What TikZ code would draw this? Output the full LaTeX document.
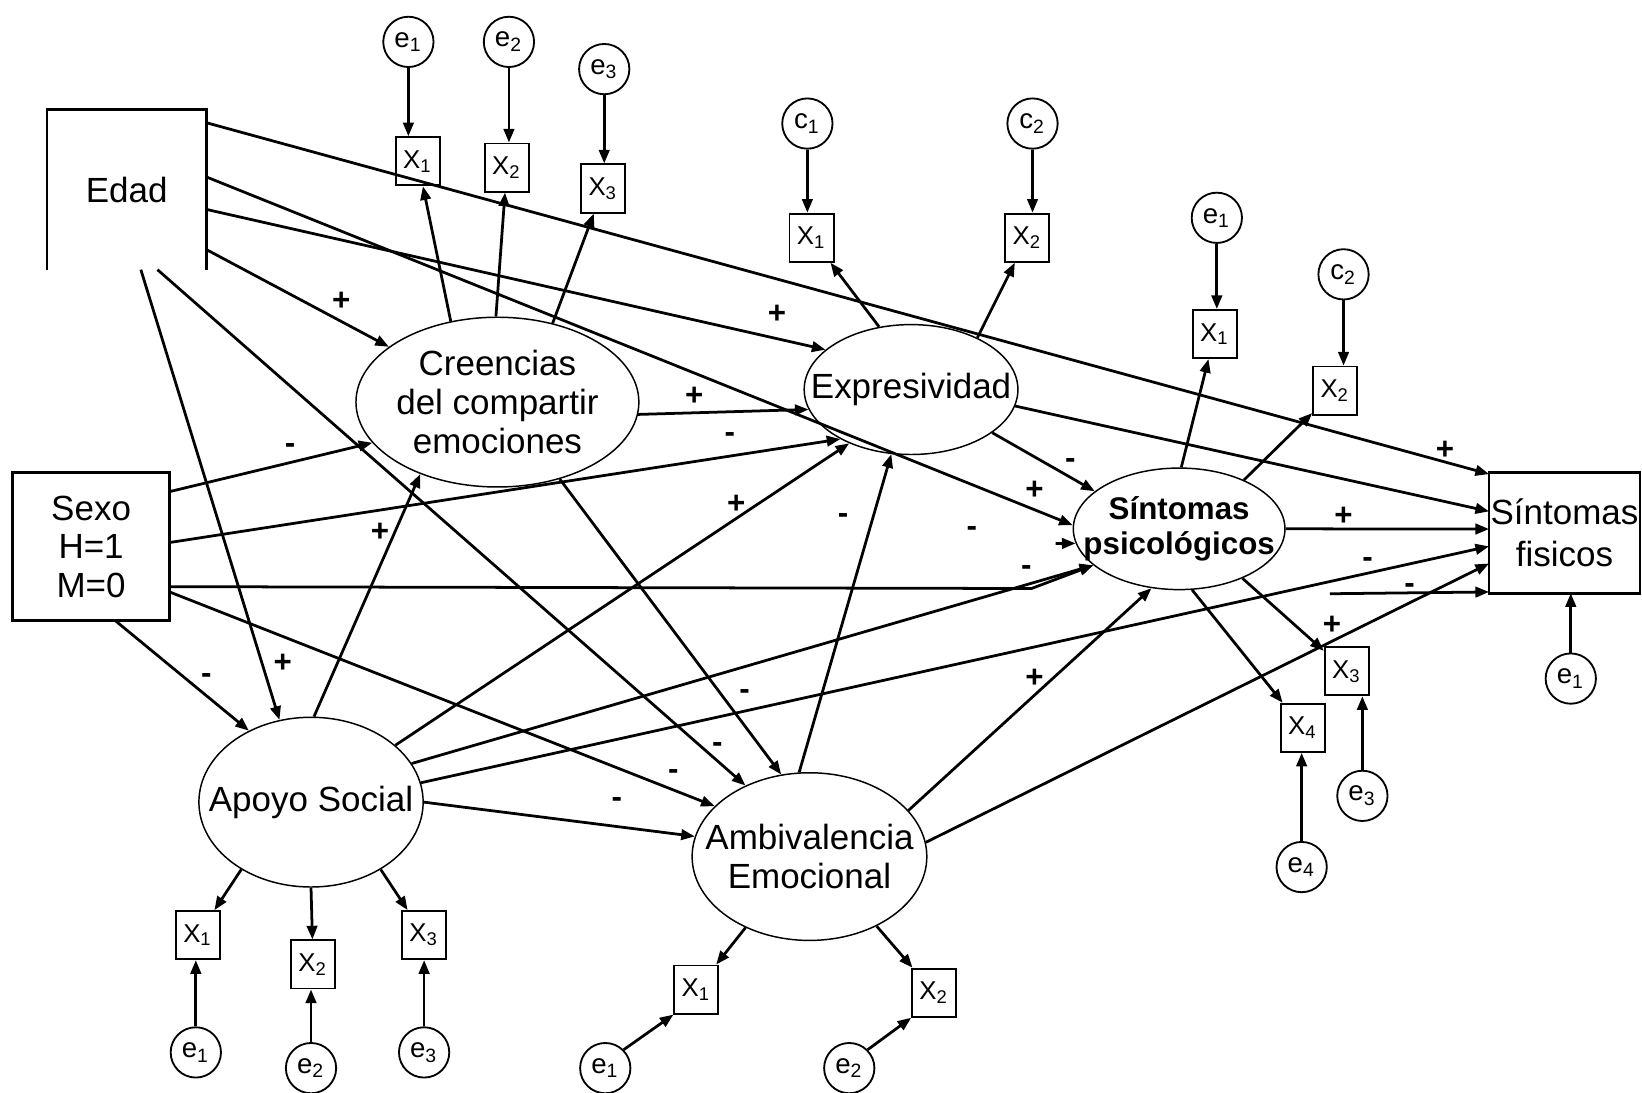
\documentclass[tikz,border=0pt]{standalone}
\usepackage{fontspec}
\setmainfont{Liberation Sans}
\usetikzlibrary{arrows.meta,shapes.geometric}

\begin{document}
\begin{tikzpicture}[x=0.01cm,y=-0.01cm,font=\fontsize{9.5}{10.5}\selectfont,
  lat/.style={draw,ellipse,line width=0.4pt,inner sep=0pt},
  obs/.style={draw,rectangle,line width=0.7pt,inner sep=0pt,outer sep=0pt,align=center},
  ind/.style={draw,rectangle,line width=0.5pt,inner sep=0pt,minimum width=0.42cm,minimum height=0.46cm,font=\fontsize{7}{8}\selectfont},
  err/.style={draw,circle,line width=0.5pt,inner sep=0pt,minimum size=0.48cm,font=\fontsize{7.5}{8}\selectfont},
  conn/.style={-{Triangle[length=1.3mm,width=1mm]},line width=0.75pt},
  sign/.style={font=\bfseries\fontsize{8.5}{9}\selectfont,inner sep=0pt}]
  \useasboundingbox (0,0) rectangle (1568,1043);
  % exogenous variables
  \node[obs,draw=none,minimum width=1.52cm,minimum height=1.53cm] (edad) at (121,181) {Edad};
  \draw[line width=0.7pt] (edad.south west) -- (edad.north west) -- (edad.north east) -- (edad.south east);
  \node[obs,minimum width=1.5cm,minimum height=1.41cm] (sexo) at (87,522) {Sexo\\H=1\\M=0};
  \node[obs,minimum width=1.44cm,minimum height=1.15cm,font=\fontsize{9.5}{11.4}\selectfont] (sfis) at (1494,509) {Síntomas\\fisicos};
  % latent variables
  \node[lat,minimum width=2.7cm,minimum height=1.62cm,label={[align=center]center:{Creencias\\del compartir\\emociones}}] (cre) at (475,384) {};
  \node[lat,minimum width=2.04cm,minimum height=1.24cm,label=center:Expresividad] (exp) at (870,372) {};
  \node[lat,minimum width=2.02cm,minimum height=1.16cm,label={[align=center,font=\bfseries\fontsize{8.5}{9.5}\selectfont]center:{Síntomas\\psicológicos}}] (sps) at (1126,505) {};
  \node[lat,minimum width=2.14cm,minimum height=1.62cm,label=center:Apoyo Social] (apo) at (297,766) {};
  \node[lat,minimum width=2.24cm,minimum height=1.6cm,label={[align=center,font=\fontsize{9.5}{10.8}\selectfont]center:{Ambivalencia\\Emocional}}] (amb) at (773,818) {};
  % indicators and errors
  \node[ind] (cx1) at (399,154) {X\textsubscript{1}};
  \node[ind] (cx2) at (484,160) {X\textsubscript{2}};
  \node[ind] (cx3) at (576,180) {X\textsubscript{3}};
  \node[err] (ce1) at (390,40) {e\textsubscript{1}};
  \node[err] (ce2) at (486,40) {e\textsubscript{2}};
  \node[err] (ce3) at (577,66) {e\textsubscript{3}};
  \node[ind] (ex1) at (775,227) {X\textsubscript{1}};
  \node[ind] (ex2) at (981,227) {X\textsubscript{2}};
  \node[err] (ec1) at (771,118) {c\textsubscript{1}};
  \node[err] (ec2) at (986,118) {c\textsubscript{2}};
  \node[ind] (sx1) at (1160,319) {X\textsubscript{1}};
  \node[ind] (sx2) at (1275,373) {X\textsubscript{2}};
  \node[ind] (sx3) at (1286,641) {X\textsubscript{3}};
  \node[ind] (sx4) at (1244,695) {X\textsubscript{4}};
  \node[err] (se1) at (1162,208) {e\textsubscript{1}};
  \node[err] (sc2) at (1283,262) {c\textsubscript{2}};
  \node[err] (se3) at (1301,760) {e\textsubscript{3}};
  \node[err] (se4) at (1243,828) {e\textsubscript{4}};
  \node[err] (fe1) at (1500,648) {e\textsubscript{1}};
  \node[ind] (ax1) at (189,893) {X\textsubscript{1}};
  \node[ind] (ax2) at (299,921) {X\textsubscript{2}};
  \node[ind] (ax3) at (405,893) {X\textsubscript{3}};
  \node[err] (ae1) at (187,1005) {e\textsubscript{1}};
  \node[err] (ae2) at (297,1020) {e\textsubscript{2}};
  \node[err] (ae3) at (405,1005) {e\textsubscript{3}};
  \node[ind] (mx1) at (665,945) {X\textsubscript{1}};
  \node[ind] (mx2) at (892,948) {X\textsubscript{2}};
  \node[err] (me1) at (578,1020) {e\textsubscript{1}};
  \node[err] (me2) at (811,1020) {e\textsubscript{2}};
  % error arrows
  \draw[conn] (ce1.south) -- (ce1.south |- cx1.north);
  \draw[conn] (ce2.south) -- (ce2.south |- cx2.north);
  \draw[conn] (ce3.south) -- (ce3.south |- cx3.north);
  \draw[conn] (ec1.south) -- (ec1.south |- ex1.north);
  \draw[conn] (ec2.south) -- (ec2.south |- ex2.north);
  \draw[conn] (se1.south) -- (se1.south |- sx1.north);
  \draw[conn] (sc2.south) -- (sc2.south |- sx2.north);
  \draw[conn] (se3.north) -- (se3.north |- sx3.south);
  \draw[conn] (se4.north) -- (se4.north |- sx4.south);
  \draw[conn] (fe1.north) -- (fe1.north |- sfis.south);
  \draw[conn] (ae1.north) -- (ae1.north |- ax1.south);
  \draw[conn] (ae2.north) -- (ae2.north |- ax2.south);
  \draw[conn] (ae3.north) -- (ae3.north |- ax3.south);
  \draw[conn] (me1.45) -- (mx1.south west);
  \draw[conn] (me2.45) -- (mx2.south west);
  % loadings
  \draw[conn] (cre.120) -- (cx1);
  \draw[conn] (cre.91) -- (cx2);
  \draw[conn] (cre.55) -- (cx3);
  \draw[conn] (exp.117) -- (ex1);
  \draw[conn] (exp.38) -- (ex2);
  \draw[conn] (sps.88) -- (sx1);
  \draw[conn] (sps.37) -- (sx2);
  \draw[conn] (sps.-38) -- (sx3);
  \draw[conn] (sps.-78) -- (sx4);
  \draw[conn] (apo.224) -- (ax1);
  \draw[conn] (apo.270) -- (ax2);
  \draw[conn] (apo.-44) -- (ax3);
  \draw[conn] (amb.228) -- (mx1);
  \draw[conn] (amb.-46) -- (mx2);
  % structural paths
  \coordinate (jn) at (985,562);
  \coordinate (tip) at (1008,519);
  \coordinate (stub) at (1270,567);
  \draw[conn] (edad.40) -- (sfis.142);
  \draw[conn] (edad.9) -- (sps.178);
  \draw[conn] (edad.-14) -- (exp.155);
  \draw[conn] (edad.-37) -- (cre.153);
  \draw[conn] (edad.-80) -- (apo.111);
  \draw[conn] (edad.-69) -- (amb.132);
  \draw[conn] (sexo.35) -- (cre.198);
  \draw[conn] (sexo.3) -- (exp.215);
  \draw[conn] (sexo.-27) -- (jn) -- (sps.203);
  \draw[conn] (sexo.-30) -- (amb.152);
  \draw[conn] (sexo.-72) -- (apo.131);
  \draw[conn] (cre.-5) -- (exp.191);
  \draw[conn] (cre.-51) -- (amb.109);
  \draw[conn] (apo.88) -- (cre.223);
  \draw[conn] (apo.34) -- (exp.221);
  \draw[conn] (apo.21) -- (sps.203);
  \draw[conn] (apo.10) -- (sfis.190);
  \draw[conn] (apo.0) -- (amb.170);
  \draw[conn] (amb.97) -- (exp.253);
  \draw[conn] (amb.25) -- (sps.245);
  \draw[conn] (amb.7) -- (sfis.202);
  \draw[conn] (exp.-28) -- (sps.156);
  \draw[conn] (exp.-9) -- (sfis.164);
  \draw[conn] (sps.0) -- (sfis.177);
  \draw[conn] (tip) -- (sps.188);
  \draw[conn] (stub) -- (sfis.218);
  % signs
  \node[sign] (sg1) at (326,288) {+};
  \node[sign] (sg2) at (742,300) {+};
  \node[sign] (sg3) at (663,378) {+};
  \node[sign] (sg4) at (697,418) {-};
  \node[sign] (sg5) at (277,428) {-};
  \node[sign] (sg6) at (1380,430) {+};
  \node[sign] (sg7) at (1022,443) {-};
  \node[sign] (sg8) at (988,468) {+};
  \node[sign] (sg9) at (703,482) {+};
  \node[sign] (sg10) at (805,495) {-};
  \node[sign] (sg11) at (928,508) {-};
  \node[sign] (sg12) at (980,545) {-};
  \node[sign] (sg13) at (363,508) {+};
  \node[sign] (sg14) at (1283,493) {+};
  \node[sign] (sg15) at (1306,537) {-};
  \node[sign] (sg16) at (1346,562) {-};
  \node[sign] (sg17) at (1272,597) {+};
  \node[sign] (sg18) at (988,648) {+};
  \node[sign] (sg19) at (197,648) {-};
  \node[sign] (sg20) at (270,633) {+};
  \node[sign] (sg21) at (711,663) {-};
  \node[sign] (sg22) at (685,714) {-};
  \node[sign] (sg23) at (643,740) {-};
  \node[sign] (sg24) at (589,766) {-};
\end{tikzpicture}
\end{document}
